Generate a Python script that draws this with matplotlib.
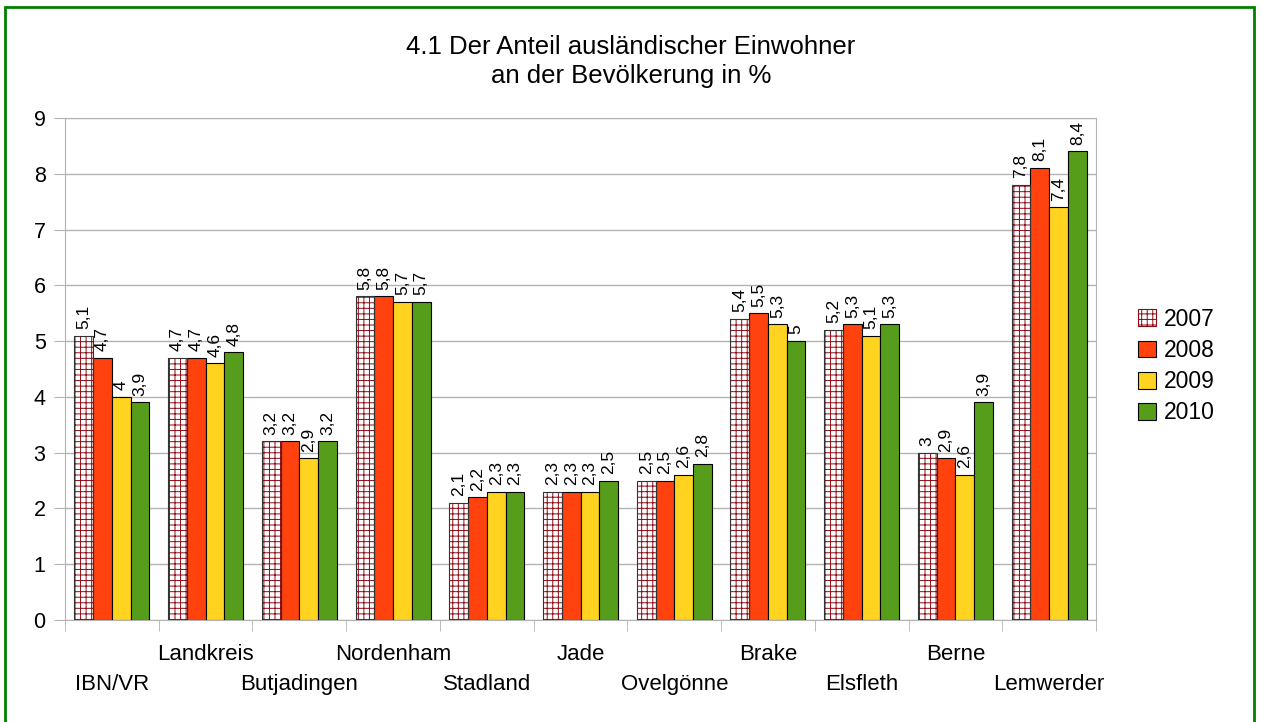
import numpy as np
import matplotlib.pyplot as plt
from matplotlib.patches import Rectangle

plt.rcParams['font.family'] = ['Liberation Sans', 'DejaVu Sans']

# Daten
orte = ['IBN/VR', 'Landkreis', 'Butjadingen', 'Nordenham', 'Stadland', 'Jade',
        'Ovelgönne', 'Brake', 'Elsfleth', 'Berne', 'Lemwerder']
jahre = ['2007', '2008', '2009', '2010']
w2007 = [5.1, 4.7, 3.2, 5.8, 2.1, 2.3, 2.5, 5.4, 5.2, 3.0, 7.8]
w2008 = [4.7, 4.7, 3.2, 5.8, 2.2, 2.3, 2.5, 5.5, 5.3, 2.9, 8.1]
w2009 = [4.0, 4.6, 2.9, 5.7, 2.3, 2.3, 2.6, 5.3, 5.1, 2.6, 7.4]
w2010 = [3.9, 4.8, 3.2, 5.7, 2.3, 2.5, 2.8, 5.0, 5.3, 3.9, 8.4]

farben = ['white', '#ff420e', '#ffd320', '#579d1c']
hatch_farbe = '#8b0a14'

def fmt(v):
    s = f'{v:.1f}'.replace('.', ',')
    return s[:-2] if s.endswith(',0') else s

fig = plt.figure(figsize=(12.62, 7.22), dpi=100)
ax = fig.add_axes([0.0515, 0.1413, 0.817, 0.6953])

plt.rcParams['hatch.linewidth'] = 0.7
x = np.arange(len(orte))
breite = 0.2
serien = [w2007, w2008, w2009, w2010]
for k, werte in enumerate(serien):
    pos = x + (k - 1.5) * breite + 0.5
    if k == 0:
        ax.bar(pos, werte, breite, color='white', edgecolor=hatch_farbe,
               hatch='+++', linewidth=0, zorder=3)
        ax.bar(pos, werte, breite, fill=False, edgecolor='#333333',
               linewidth=0.8, zorder=4)
    else:
        ax.bar(pos, werte, breite, color=farben[k], edgecolor='black',
               linewidth=0.8, zorder=3)
    for p, v in zip(pos, werte):
        ax.text(p, v + 0.12, fmt(v), rotation=90, ha='center', va='bottom',
                fontsize=12.5, zorder=5)

ax.set_xlim(0, len(orte))
ax.set_ylim(0, 9)
ax.set_yticks(range(10))
ax.tick_params(axis='y', length=8, color='#b3b3b3', labelsize=15.5, pad=6)
ax.grid(axis='y', color='#b3b3b3', linewidth=1, zorder=0)
ax.set_axisbelow(True)
for s in ax.spines.values():
    s.set_color('#b3b3b3')

ax.set_xticks(np.arange(len(orte) + 1), minor=True)
ax.tick_params(axis='x', which='minor', length=8, color='#b3b3b3')
ax.set_xticks(x + 0.5)
ax.set_xticklabels(orte, fontsize=16)
ax.tick_params(axis='x', which='major', length=0, pad=17)
for i, t in enumerate(ax.xaxis.get_major_ticks()):
    if i % 2 == 0:
        t.set_pad(39)

fig.text(0.5, 0.915, '4.1 Der Anteil ausländischer Einwohner\nan der Bevölkerung in %',
         ha='center', va='center', fontsize=18.5, linespacing=1.25)

# Legende
handles = [Rectangle((0, 0), 1, 1, facecolor='white', edgecolor=hatch_farbe, hatch='+++', linewidth=0.8)]
handles += [Rectangle((0, 0), 1, 1, facecolor=c, edgecolor='black', linewidth=0.8) for c in farben[1:]]
fig.legend(handles, jahre, loc='center left', bbox_to_anchor=(0.893, 0.493),
           frameon=False, fontsize=16.5, handlelength=0.75, handleheight=0.75,
           handletextpad=0.35, labelspacing=0.36, borderpad=0)

# grüner Rahmen
fig.patches.append(Rectangle((5 / 1262, -0.05), 1249 / 1262, 1 - 7 / 722 + 0.05,
                             transform=fig.transFigure, fill=False,
                             edgecolor='#008000', linewidth=2))

fig.savefig('out.png', dpi=100)
